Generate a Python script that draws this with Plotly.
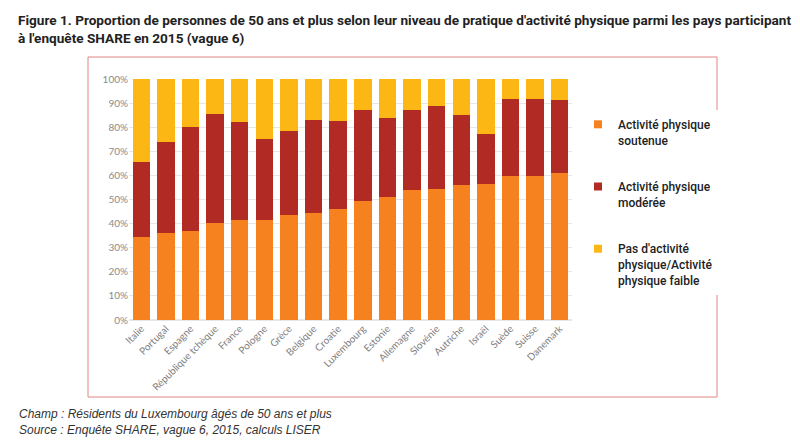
import plotly.graph_objects as go

# Countries, sorted by share of sustained activity
pays = [
    "Italie", "Portugal", "Espagne", "République tchèque", "France", "Pologne",
    "Grèce", "Belgique", "Croatie", "Luxembourg", "Estonie", "Allemagne",
    "Slovénie", "Autriche", "Israël", "Suède", "Suisse", "Danemark",
]

# Shares in %
soutenue = [34.6, 36.1, 36.8, 40.1, 41.6, 41.6, 43.6, 44.4, 46.1, 49.2,
            51.0, 53.8, 54.4, 56.2, 56.4, 59.8, 59.9, 60.9]
moderee = [30.8, 37.6, 43.4, 45.2, 40.6, 33.6, 34.7, 38.7, 36.3, 38.1,
           33.0, 33.5, 34.4, 28.9, 20.9, 31.9, 31.8, 30.2]
faible = [34.6, 26.3, 19.8, 14.7, 17.8, 24.8, 21.7, 16.9, 17.6, 12.7,
          16.0, 12.7, 11.2, 14.9, 22.7, 8.3, 8.3, 8.9]

noms = [
    "Activité physique<br>soutenue",
    "Activité physique<br>modérée",
    "Pas d'activité<br>physique/Activité<br>physique faible",
]
couleurs = ["#F5821F", "#B12A24", "#FDB714"]

TITLE_FONT = "Roboto, Lato, sans-serif"
AXIS_FONT = "Lato, Roboto, sans-serif"

# the page body has an 8px margin, so every pixel position below is
# taken from the reference and shifted back by OFF
OFF = 8
W, H = 800, 441
L, T = 129 - OFF, 79 - OFF
pw, ph = 443, 241
R = W - L - pw
B = H - T - ph


def px_x(x):
    return (x - OFF - L) / pw


def px_y(y):
    return (T + ph - (y - OFF)) / ph


fig = go.Figure()
for i, (nom, vals, col) in enumerate(zip(noms, [soutenue, moderee, faible], couleurs)):
    fig.add_trace(go.Bar(
        x=pays, y=vals, name=nom, showlegend=False,
        marker=dict(color=col, line=dict(width=0)),
    ))
    # small square legend keys like the original
    fig.add_trace(go.Scatter(
        x=[None], y=[None], mode="markers", name=nom,
        legendgroup=f"g{i}",
        marker=dict(symbol="square", size=8, color=col),
    ))

fig.update_layout(
    width=W, height=H,
    margin=dict(l=L, r=R, t=T, b=B),
    barmode="stack",
    bargap=0.29,
    paper_bgcolor="white",
    plot_bgcolor="white",
    font=dict(family="Liberation Sans, Arial, sans-serif", color="#333"),
    showlegend=True,
    legend=dict(
        x=px_x(578), y=px_y(110), xanchor="left", yanchor="top",
        valign="top",
        font=dict(family=TITLE_FONT, size=12, color="#222", weight=500),
        tracegroupgap=28,
        traceorder="grouped",
        itemwidth=30,
    ),
    xaxis=dict(
        tickangle=-45,
        tickfont=dict(family=AXIS_FONT, size=10, color="#808080"),
        showline=False, ticks="",
    ),
    yaxis=dict(
        range=[0, 100],
        dtick=10,
        ticksuffix="%",
        tickfont=dict(family=AXIS_FONT, size=10, color="#8a8a8a"),
        showgrid=True, gridcolor="#e6e6e6", gridwidth=1,
        zeroline=True, zerolinecolor="#e6e6e6",
        ticks="", showline=False,
    ),
)

# title
fig.add_annotation(
    text=("Figure 1. Proportion de personnes de 50 ans et plus selon leur niveau de pratique "
          "d'activité physique parmi les pays participant<br>à l'enquête SHARE en 2015 (vague 6)"),
    xref="paper", yref="paper",
    x=px_x(16), y=px_y(10), xanchor="left", yanchor="top",
    align="left", showarrow=False,
    font=dict(family=TITLE_FONT, size=13.6, color="#222", weight="bold"),
)

# red frame around the chart
fig.add_shape(
    type="rect", xref="paper", yref="paper",
    x0=px_x(88), x1=px_x(717), y0=px_y(397), y1=px_y(57),
    line=dict(color="#E08585", width=1),
    fillcolor="rgba(0,0,0,0)",
    layer="below",
)

fig.add_annotation(
    text=("<i>Champ : Résidents du Luxembourg âgés de 50 ans et plus</i><br>"
          "<i>Source : Enquête SHARE, vague 6, 2015, calculs LISER</i>"),
    xref="paper", yref="paper",
    x=px_x(17), y=px_y(405), xanchor="left", yanchor="top",
    align="left", showarrow=False,
    font=dict(family="Liberation Sans, Arial, sans-serif", size=12, color="#333"),
)

fig.write_html("out.html")
